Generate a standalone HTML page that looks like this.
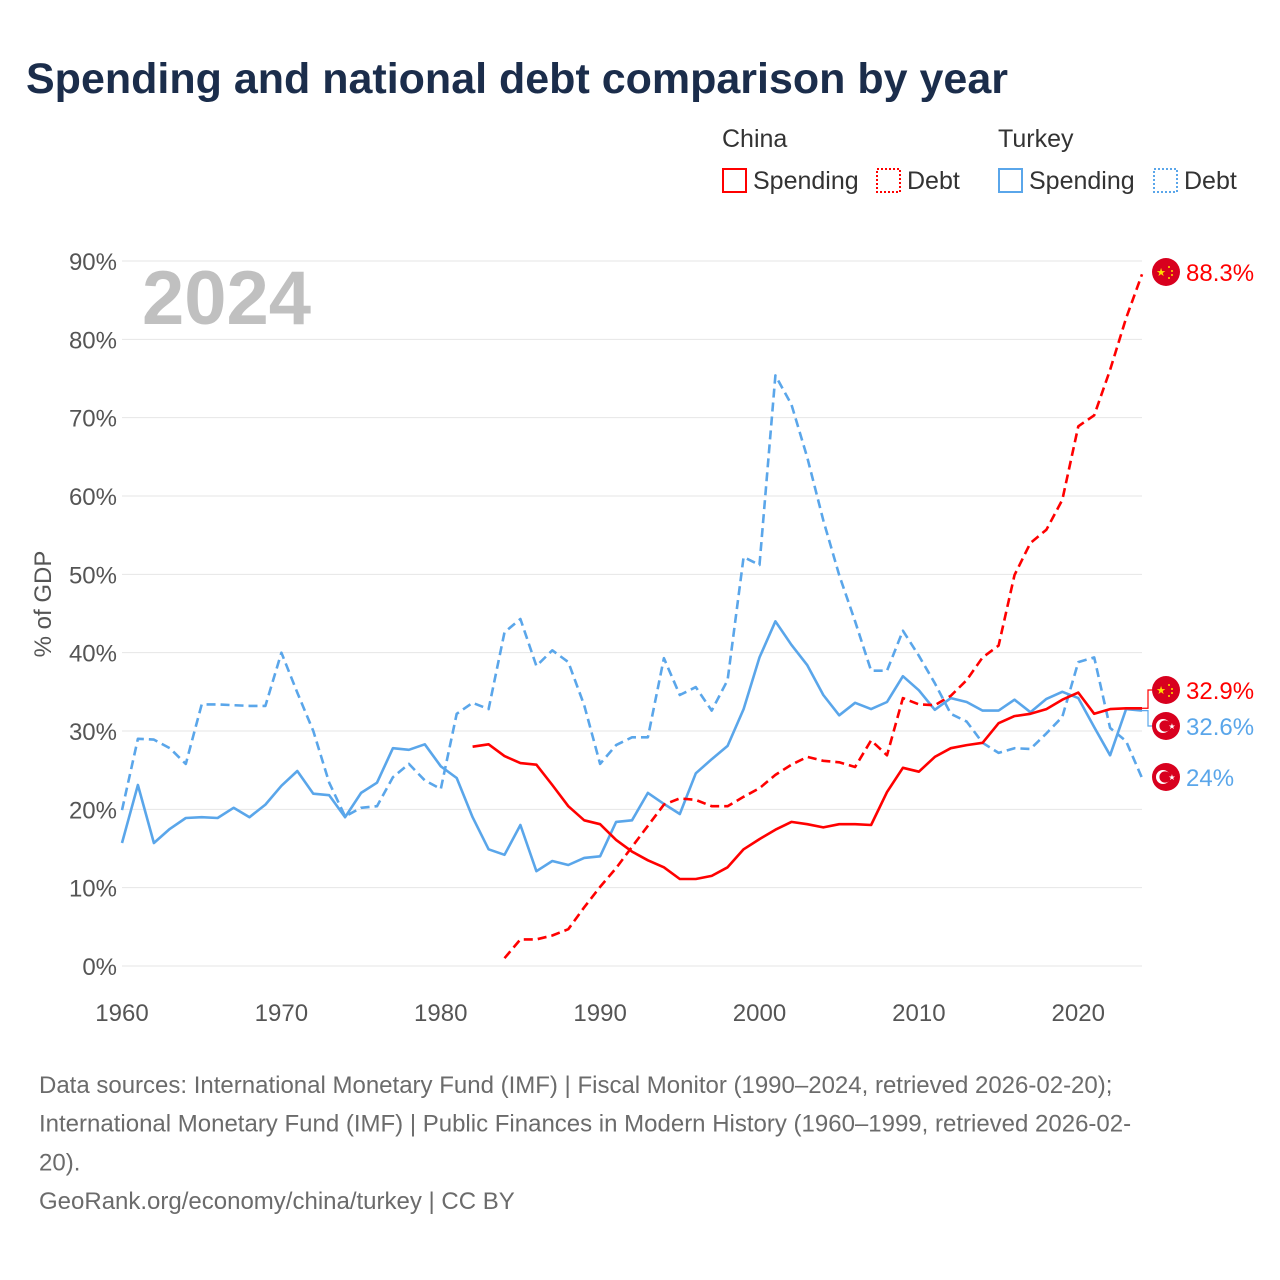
<!DOCTYPE html>
<html><head><meta charset="utf-8"><style>
body{margin:0;background:#fff;font-family:"Liberation Sans",sans-serif;}
#wrap{position:relative;width:1280px;height:1280px;overflow:hidden;}
</style></head><body>
<div id="wrap">
<svg id="chart" width="1280" height="1280" font-family="Liberation Sans, sans-serif"></svg>
</div>
<script>
const years = [];
for (let y = 1960; y <= 2024; y++) years.push(y);
const turkeySpending = [15.7,23.1,15.7,17.5,18.9,19.0,18.9,20.2,19.0,20.6,23.0,24.9,22.0,21.8,19.0,22.1,23.4,27.8,27.6,28.3,25.5,24.0,19.0,14.9,14.2,18.0,12.1,13.4,12.9,13.8,14.0,18.4,18.6,22.1,20.7,19.4,24.6,26.4,28.1,32.8,39.4,44.0,41.0,38.4,34.6,32.0,33.6,32.8,33.7,37.0,35.2,32.7,34.2,33.7,32.6,32.6,34.0,32.4,34.1,35.0,34.2,30.5,26.9,32.8,32.6];
const turkeyDebt = [19.9,29.0,28.9,27.8,25.8,33.4,33.4,33.3,33.2,33.2,40.0,34.9,30.0,23.4,19.1,20.2,20.4,24.1,25.8,23.7,22.6,32.2,33.6,32.8,42.6,44.3,38.3,40.3,38.8,33.3,25.8,28.2,29.2,29.2,39.3,34.6,35.6,32.6,36.5,52.2,51.2,75.4,71.7,64.9,56.9,49.9,44.0,37.7,37.7,42.8,39.6,36.1,32.2,31.2,28.5,27.2,27.8,27.7,29.7,31.8,38.8,39.4,30.4,28.7,24.0];
const chinaSpendingStart = 1982;
const chinaSpending = [28.0,28.3,26.8,25.9,25.7,23.1,20.4,18.6,18.1,16.1,14.6,13.5,12.6,11.1,11.1,11.5,12.6,14.9,16.2,17.4,18.4,18.1,17.7,18.1,18.1,18.0,22.2,25.3,24.8,26.7,27.8,28.2,28.5,31.0,31.9,32.2,32.8,34.0,34.9,32.2,32.8,32.9,32.9];
const chinaDebtStart = 1984;
const chinaDebt = [1.0,3.4,3.4,3.9,4.7,7.5,10.1,12.5,15.2,17.9,20.6,21.4,21.2,20.4,20.4,21.6,22.7,24.4,25.7,26.7,26.2,26.0,25.4,28.8,26.9,34.2,33.4,33.3,34.5,36.5,39.4,40.9,49.9,54.0,55.7,59.5,68.9,70.3,76.1,82.7,88.3];
const yTicks = [0,10,20,30,40,50,60,70,80,90];
const xTicks = [1960,1970,1980,1990,2000,2010,2020];

const svg = document.getElementById('chart');
const NS = 'http://www.w3.org/2000/svg';
const X0 = 122, X1 = 1142, Y0 = 966, Y90 = 261;
const xs = yr => X0 + (yr - 1960) * (X1 - X0) / 64;
const ys = v => Y0 - v * (Y0 - Y90) / 90;
function mk(tag, attrs, parent) {
  const e = document.createElementNS(NS, tag);
  for (const k in attrs) e.setAttribute(k, attrs[k]);
  (parent || svg).appendChild(e);
  return e;
}
function txt(s, attrs) { const t = mk('text', attrs); t.textContent = s; return t; }

let t = txt('Spending and national debt comparison by year', {x:26, y:93, 'font-size':43, 'font-weight':'bold', fill:'#1b2d4b'});



const lg = [
  {label:'China', x:722, y:147},
  {label:'Turkey', x:998, y:147}
];
lg.forEach(g => {
  const e = txt(g.label, {x:g.x, y:g.y, 'font-size':25, fill:'#333'});
  
  
});
const legendItems = [
  {x:722, color:'#ff0000', dash:'', label:'Spending', name:'legend-china-spending'},
  {x:876, color:'#ff0000', dash:'2 2', label:'Debt', name:'legend-china-debt'},
  {x:998, color:'#5aa6ea', dash:'', label:'Spending', name:'legend-turkey-spending'},
  {x:1153, color:'#5aa6ea', dash:'2 2', label:'Debt', name:'legend-turkey-debt'}
];
legendItems.forEach(it => {
  const g = mk('g', {});
  
  
  mk('rect', {x:it.x+1, y:169, width:23, height:23, fill:'none', stroke:it.color, 'stroke-width':2, 'stroke-dasharray':it.dash}, g);
  const e = mk('text', {x:it.x+31, y:189, 'font-size':25, fill:'#333'}, g);
  e.textContent = it.label;
});

yTicks.forEach(v => {
  const l = mk('line', {x1:X0, x2:X1, y1:ys(v), y2:ys(v), stroke:'#e6e6e6', 'stroke-width':1});
  
  
  const e = txt(v + '%', {x:117, y:ys(v)+9, 'font-size':24, fill:'#555', 'text-anchor':'end'});
  
  
});
xTicks.forEach(yr => {
  const e = txt(String(yr), {x:xs(yr), y:1021, 'font-size':24, fill:'#555', 'text-anchor':'middle'});
  
  
});
let yt = txt('% of GDP', {x:0, y:0, 'font-size':24, fill:'#555', 'text-anchor':'middle', transform:'translate(51,604) rotate(-90)'});



let yr = txt('2024', {x:142, y:324, 'font-size':76, 'font-weight':'bold', fill:'#c0c0c0'});



function series(vals, start, color, dash, name) {
  const pts = vals.map((v, i) => xs(start + i).toFixed(1) + ',' + ys(v).toFixed(1)).join(' ');
  const p = mk('polyline', {points:pts, fill:'none', stroke:color, 'stroke-width':2.6, 'stroke-dasharray':dash, 'stroke-linejoin':'round'});
  
  
}
series(turkeyDebt, 1960, '#5aa6ea', '9 5', 'turkey-debt-line');
series(turkeySpending, 1960, '#5aa6ea', '', 'turkey-spending-line');
series(chinaDebt, chinaDebtStart, '#ff0000', '9 5', 'china-debt-line');
series(chinaSpending, chinaSpendingStart, '#ff0000', '', 'china-spending-line');

const ends = [
  {v:chinaDebt[chinaDebt.length-1], ly:272, color:'#ff0000', flag:'cn', name:'china-debt'},
  {v:chinaSpending[chinaSpending.length-1], ly:690, color:'#ff0000', flag:'cn', name:'china-spending'},
  {v:turkeySpending[turkeySpending.length-1], ly:726, color:'#5aa6ea', flag:'tr', name:'turkey-spending'},
  {v:turkeyDebt[turkeyDebt.length-1], ly:777, color:'#5aa6ea', flag:'tr', name:'turkey-debt'}
];
ends.forEach(e => {
  const y = ys(e.v);
  if (Math.abs(y - e.ly) > 3) {
    mk('polyline', {points:`${X1},${y} ${X1+6},${y} ${X1+6},${e.ly} ${X1+10},${e.ly}`, fill:'none', stroke:e.color, 'stroke-width':1.2});
  }
  const g = mk('g', {});
  
  
  mk('circle', {cx:1166, cy:e.ly, r:14, fill:'#d8001e'}, g);
  if (e.flag === 'cn') {
    const s = mk('text', {x:1161, y:e.ly+4, 'font-size':11, fill:'#ffde00', 'text-anchor':'middle'}, g); s.textContent = '★';
    [[1169,e.ly-5],[1172,e.ly-1],[1172,e.ly+3],[1169,e.ly+6]].forEach(p => {
      mk('circle', {cx:p[0], cy:p[1], r:1, fill:'#ffde00'}, g);
    });
  } else {
    mk('circle', {cx:1163, cy:e.ly, r:7, fill:'#fff'}, g);
    mk('circle', {cx:1165, cy:e.ly, r:5.6, fill:'#d8001e'}, g);
    const s = mk('text', {x:1172, y:e.ly+3, 'font-size':8, fill:'#fff', 'text-anchor':'middle'}, g); s.textContent = '★';
  }
  const tt = mk('text', {x:1186, y:e.ly+9, 'font-size':24, fill:e.color}, g);
  tt.textContent = (Math.round(e.v*10)/10) + '%';
});

const foot = [
  'Data sources: International Monetary Fund (IMF) | Fiscal Monitor (1990–2024, retrieved 2026-02-20);',
  'International Monetary Fund (IMF) | Public Finances in Modern History (1960–1999, retrieved 2026-02-',
  '20).',
  'GeoRank.org/economy/china/turkey | CC BY'
];
foot.forEach((s, i) => {
  const e = txt(s, {x:39, y:1093 + i*38.7, 'font-size':24, fill:'#6b6b6b'});
  
  
});
</script>
</body></html>
